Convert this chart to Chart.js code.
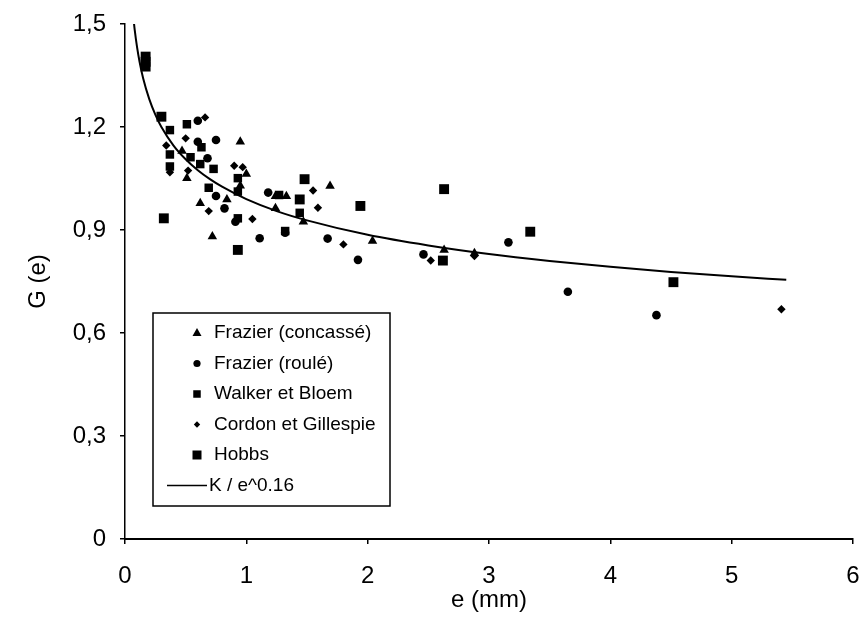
<!DOCTYPE html>
<html>
<head>
<meta charset="utf-8">
<script src="https://cdn.jsdelivr.net/npm/chart.js@4/dist/chart.umd.min.js"></script>
<style>
  html, body { margin: 0; padding: 0; background: #fff; }
  canvas { display: block; }
</style>
</head>
<body>
<canvas id="myChart" width="860" height="637"></canvas>
<script>
// values
const xTicks = [0, 1, 2, 3, 4, 5, 6];
const yTicks = [0, 0.3, 0.6, 0.9, 1.2, 1.5];
const yTickLabels = ['0', '0,3', '0,6', '0,9', '1,2', '1,5'];

const concasseX = [0.95, 0.47, 0.51, 1.00, 0.95, 1.69, 1.24, 1.33, 0.84, 0.62, 1.24, 1.47, 0.72, 2.04, 2.63, 2.88];
const concasseY = [1.157, 1.130, 1.051, 1.063, 1.029, 1.028, 0.998, 0.998, 0.989, 0.978, 0.963, 0.924, 0.881, 0.868, 0.842, 0.832];

const rouleX = [0.60, 0.60, 0.75, 0.68, 1.18, 0.75, 0.82, 0.91, 1.32, 1.11, 1.67, 1.92, 2.46, 3.16, 3.65, 4.38];
const rouleY = [1.218, 1.157, 1.162, 1.109, 1.009, 0.999, 0.963, 0.924, 0.892, 0.876, 0.875, 0.813, 0.829, 0.864, 0.720, 0.652];

const walkerX = [0.37, 0.51, 0.63, 0.37, 0.54, 0.62, 0.73, 0.37, 0.93, 0.93, 0.69, 1.27, 1.44, 0.93, 1.32];
const walkerY = [1.191, 1.208, 1.141, 1.120, 1.112, 1.092, 1.078, 1.085, 1.051, 1.012, 1.023, 1.002, 0.950, 0.934, 0.897];

const cordonX = [0.66, 0.50, 0.34, 0.37, 0.52, 0.90, 0.97, 1.55, 1.59, 0.69, 1.05, 1.80, 2.52, 2.88, 5.41];
const cordonY = [1.228, 1.167, 1.146, 1.068, 1.073, 1.087, 1.083, 1.015, 0.965, 0.955, 0.932, 0.858, 0.811, 0.824, 0.669];

const hobbsX = [0.17, 0.17, 0.17, 0.30, 1.48, 1.44, 1.94, 0.32, 0.93, 2.63, 2.62, 3.34, 4.52];
const hobbsY = [1.405, 1.390, 1.376, 1.230, 1.048, 0.989, 0.970, 0.934, 0.842, 1.019, 0.811, 0.895, 0.748];

// K / e^0.16 curve
const curveX = [0.07, 0.08, 0.1, 0.12, 0.15, 0.2, 0.25, 0.3, 0.4, 0.5, 0.6, 0.7, 0.8, 1.0, 1.25, 1.5, 2, 2.5, 3, 3.5, 4, 4.5, 5, 5.45];
const curveY = [1.515, 1.483, 1.431, 1.390, 1.341, 1.281, 1.236, 1.200, 1.146, 1.106, 1.074, 1.048, 1.026, 0.990, 0.955, 0.928, 0.886, 0.855, 0.830, 0.810, 0.793, 0.778, 0.765, 0.755];

const pts = (xs, ys) => xs.map((x, i) => ({ x: x, y: ys[i] }));

const FONT = '"Liberation Sans", Arial, Helvetica, sans-serif';

function marker(ctx, style, x, y, r) {
    ctx.beginPath();
    if (style === 'triangle') {
        ctx.moveTo(x, y - r);
        ctx.lineTo(x + r * 0.9, y + r * 0.6);
        ctx.lineTo(x - r * 0.9, y + r * 0.6);
        ctx.closePath();
    } else if (style === 'circle') {
        ctx.arc(x, y, r * 0.8, 0, Math.PI * 2);
    } else if (style === 'rectRot') {
        ctx.moveTo(x, y - r * 0.8);
        ctx.lineTo(x + r * 0.8, y);
        ctx.lineTo(x, y + r * 0.8);
        ctx.lineTo(x - r * 0.8, y);
        ctx.closePath();
    } else {
        ctx.rect(x - r * 0.75, y - r * 0.75, r * 1.5, r * 1.5);
    }
    ctx.fill();
}

// framed legend in the lower left of the plot
const boxLegend = {
    id: 'boxLegend',
    afterDraw(chart) {
        const ctx = chart.ctx;
        const left = 153, top = 313;
        const w = 237, h = 193;
        ctx.save();
        ctx.fillStyle = '#fff';
        ctx.fillRect(left, top, w, h);
        ctx.strokeStyle = '#000';
        ctx.lineWidth = 1.5;
        ctx.strokeRect(left, top, w, h);
        ctx.font = '19px ' + FONT;
        ctx.textBaseline = 'middle';
        ctx.fillStyle = '#000';
        const sizes = [5, 4.5, 5, 4, 6];
        chart.data.datasets.forEach((ds, i) => {
            const y = top + 20 + i * 30.5;
            if (ds.showLine) {
                ctx.beginPath();
                ctx.lineWidth = 1.5;
                ctx.moveTo(left + 14, y);
                ctx.lineTo(left + 54, y);
                ctx.stroke();
                ctx.fillText(ds.label, left + 56, y);
            } else {
                marker(ctx, ds.pointStyle, left + 44, y, sizes[i]);
                ctx.fillText(ds.label, left + 61, y);
            }
        });
        ctx.restore();
    }
};

const ctx = document.getElementById('myChart').getContext('2d');
const myChart = new Chart(ctx, {
    type: 'scatter',
    data: {
        datasets: [
            { label: 'Frazier (concassé)', data: pts(concasseX, concasseY), pointStyle: 'triangle', pointRadius: 5.5, backgroundColor: '#000', borderColor: '#000', borderWidth: 0 },
            { label: 'Frazier (roulé)', data: pts(rouleX, rouleY), pointStyle: 'circle', pointRadius: 4.3, backgroundColor: '#000', borderColor: '#000', borderWidth: 0 },
            { label: 'Walker et Bloem', data: pts(walkerX, walkerY), pointStyle: 'rect', pointRadius: 6, backgroundColor: '#000', borderColor: '#000', borderWidth: 0 },
            { label: 'Cordon et Gillespie', data: pts(cordonX, cordonY), pointStyle: 'rectRot', pointRadius: 4.2, backgroundColor: '#000', borderColor: '#000', borderWidth: 0 },
            { label: 'Hobbs', data: pts(hobbsX, hobbsY), pointStyle: 'rect', pointRadius: 7, backgroundColor: '#000', borderColor: '#000', borderWidth: 0 },
            { label: 'K / e^0.16', data: pts(curveX, curveY), showLine: true, pointRadius: 0, borderColor: '#000', borderWidth: 2, cubicInterpolationMode: 'monotone' }
        ]
    },
    options: {
        responsive: false,
        animation: false,
        layout: { padding: { top: 24, right: 6, left: 0, bottom: 0 } },
        plugins: {
            legend: { display: false },
            tooltip: { enabled: false }
        },
        scales: {
            x: {
                type: 'linear',
                min: 0,
                max: 6,
                afterBuildTicks: s => { s.ticks = xTicks.map(v => ({ value: v })); },
                afterFit: s => { s.height = 98; s.paddingLeft = 0; s.paddingRight = 0; },
                ticks: { color: '#000', font: { family: FONT, size: 24 }, padding: 18, maxRotation: 0 },
                grid: { drawOnChartArea: false, color: '#000', tickLength: 5, lineWidth: 1.5 },
                border: { color: '#000', width: 2 },
                title: { display: true, text: 'e (mm)', color: '#000', font: { family: FONT, size: 24 }, padding: { top: 0, bottom: 22 } }
            },
            y: {
                min: 0,
                max: 1.5,
                afterBuildTicks: s => { s.ticks = yTicks.map(v => ({ value: v })); },
                afterFit: s => { s.width = 125; s.paddingTop = 0; s.paddingBottom = 0; },
                ticks: {
                    color: '#000',
                    font: { family: FONT, size: 24 },
                    padding: 14,
                    callback: (v, i) => yTickLabels[i]
                },
                grid: { drawOnChartArea: false, color: '#000', tickLength: 5, lineWidth: 1.5 },
                border: { color: '#000', width: 1.5 },
                title: { display: true, text: 'G (e)', color: '#000', font: { family: FONT, size: 24 }, padding: { top: 24, bottom: 0 } }
            }
        }
    },
    plugins: [boxLegend]
});
</script>
</body>
</html>
